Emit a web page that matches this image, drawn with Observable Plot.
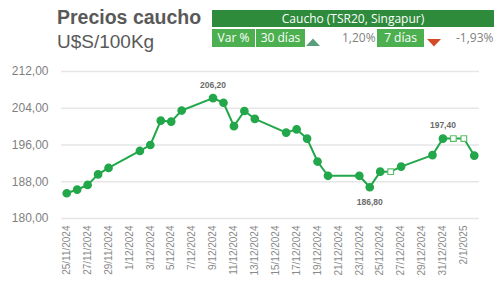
<!DOCTYPE html>
<html>
<head>
<meta charset="utf-8">
<script src="https://cdn.jsdelivr.net/npm/d3@7"></script>
<script src="https://cdn.jsdelivr.net/npm/@observablehq/plot@0.6"></script>
<style>
  html, body { margin: 0; padding: 0; background: #fff; }
  #wrap { position: relative; width: 500px; height: 288px; font-family: Arial, "Liberation Sans", sans-serif; overflow: hidden; }
  .abs { position: absolute; white-space: nowrap; }
  .cell { position: absolute; background: #4cb050; color: #fff; font-size: 12px; line-height: 18px; text-align: center; font-family: "Open Sans", Arial, sans-serif; }
</style>
</head>
<body>
<div id="wrap">
  <div class="abs" style="left:57px;top:6px;font-size:19.5px;font-weight:bold;color:#595959;">Precios caucho</div>
  <div class="abs" style="left:57px;top:31px;font-size:19px;color:#595959;">U$S/100Kg</div>
  <div class="abs" style="left:212px;top:10px;width:282px;height:17px;background:#2e8b3b;color:#fff;font-size:12px;line-height:17px;text-align:center;font-family:'Open Sans',Arial,sans-serif;">Caucho (TSR20, Singapur)</div>
  <div class="cell" style="left:212px;top:28.5px;width:43px;height:18px;">Var %</div>
  <div class="cell" style="left:256px;top:28.5px;width:49px;height:18px;">30 días</div>
  <svg class="abs" style="left:306px;top:38px;" width="14" height="8"><polygon points="0,8 14,8 7,0.5" fill="#5a9e7c"/></svg>
  <div class="abs" style="left:342px;top:28.5px;font-size:12px;line-height:18px;color:#7f7f7f;font-family:'Open Sans',Arial,sans-serif;">1,20%</div>
  <div class="cell" style="left:377px;top:28.5px;width:47px;height:18px;">7 días</div>
  <svg class="abs" style="left:427px;top:39px;" width="14" height="8"><polygon points="0,0 14,0 7,7.5" fill="#d24b26"/></svg>
  <div class="abs" style="left:456px;top:28.5px;font-size:12px;line-height:18px;color:#7f7f7f;font-family:'Open Sans',Arial,sans-serif;">-1,93%</div>
  <div id="chart" class="abs" style="left:0;top:0;"></div>
</div>
<script>
const dates = ["2024-11-25","2024-11-26","2024-11-27","2024-11-28","2024-11-29","2024-12-02","2024-12-03","2024-12-04","2024-12-05","2024-12-06","2024-12-09","2024-12-10","2024-12-11","2024-12-12","2024-12-13","2024-12-16","2024-12-17","2024-12-18","2024-12-19","2024-12-20","2024-12-23","2024-12-24","2024-12-25","2024-12-26","2024-12-27","2024-12-30","2024-12-31","2025-01-01","2025-01-02","2025-01-03"];
const values = [185.5,186.3,187.3,189.6,191.0,194.7,196.0,201.3,201.1,203.5,206.2,205.2,200.1,203.4,201.7,198.7,199.4,197.4,192.4,189.3,189.3,186.8,190.2,190.2,191.3,193.8,197.4,197.4,197.4,193.7];
const holiday = [false,false,false,false,false,false,false,false,false,false,false,false,false,false,false,false,false,false,false,false,false,false,false,true,false,false,false,true,true,false];
const yTicks = [180,188,196,204,212];
const xTickDates = ["2024-11-25","2024-11-27","2024-11-29","2024-12-01","2024-12-03","2024-12-05","2024-12-07","2024-12-09","2024-12-11","2024-12-13","2024-12-15","2024-12-17","2024-12-19","2024-12-21","2024-12-23","2024-12-25","2024-12-27","2024-12-29","2024-12-31","2025-01-02"];
const labelDates = ["2024-12-09","2024-12-24","2024-12-31"];
const labelPos = ["above","below","above"];

const parse = s => new Date(s + "T00:00:00Z");
const data = dates.map((d, i) => ({date: parse(d), value: values[i], holiday: holiday[i]}));
const labels = labelDates.map((d, i) => {
  const v = values[dates.indexOf(d)];
  return {date: parse(d), value: v, pos: labelPos[i], text: d3.format(".2f")(v).replace(".", ",")};
});
const fmtDate = d => `${d.getUTCDate()}/${d.getUTCMonth() + 1}/${d.getUTCFullYear()}`;
const fmtY = v => d3.format(".2f")(v).replace(".", ",");
const half = 12 * 3600 * 1000;

const chart = Plot.plot({
  width: 500,
  height: 288,
  marginLeft: 61,
  marginRight: 21,
  marginTop: 71,
  marginBottom: 70,
  style: {fontFamily: "Arial, 'Liberation Sans', sans-serif", background: "transparent"},
  x: {type: "utc", domain: [new Date(parse(dates[0]) - half), new Date(+parse(dates[dates.length - 1]) + half)], label: null},
  y: {domain: [180, 212], label: null},
  marks: [
    Plot.ruleY(yTicks, {stroke: "#e6e6e6", strokeWidth: 1.5}),
    Plot.axisY({ticks: yTicks, tickSize: 0, tickPadding: 13, tickFormat: fmtY, fontSize: 12, fill: "#7f7f7f"}),
    Plot.axisX({ticks: xTickDates.map(parse), tickSize: 0, tickPadding: 7, tickRotate: -90, tickFormat: fmtDate, fontSize: 10, fill: "#8a8a8a"}),
    Plot.line(data, {x: "date", y: "value", stroke: "#22a74a", strokeWidth: 2}),
    Plot.dot(data.filter(d => !d.holiday), {x: "date", y: "value", r: 3.6, fill: "#22a74a", stroke: "#22a74a"}),
    Plot.dot(data.filter(d => d.holiday), {x: "date", y: "value", symbol: "square", r: 3.2, fill: "#fff", stroke: "#5cc06a", strokeWidth: 1.2}),
    Plot.text(labels.filter(d => d.pos === "above"), {x: "date", y: "value", text: "text", dy: -13, fontSize: 8.5, fontWeight: "bold", fill: "#6b6b6b"}),
    Plot.text(labels.filter(d => d.pos === "below"), {x: "date", y: "value", text: "text", dy: 15, fontSize: 8.5, fontWeight: "bold", fill: "#6b6b6b"})
  ]
});
document.getElementById("chart").appendChild(chart);
</script>
</body>
</html>
